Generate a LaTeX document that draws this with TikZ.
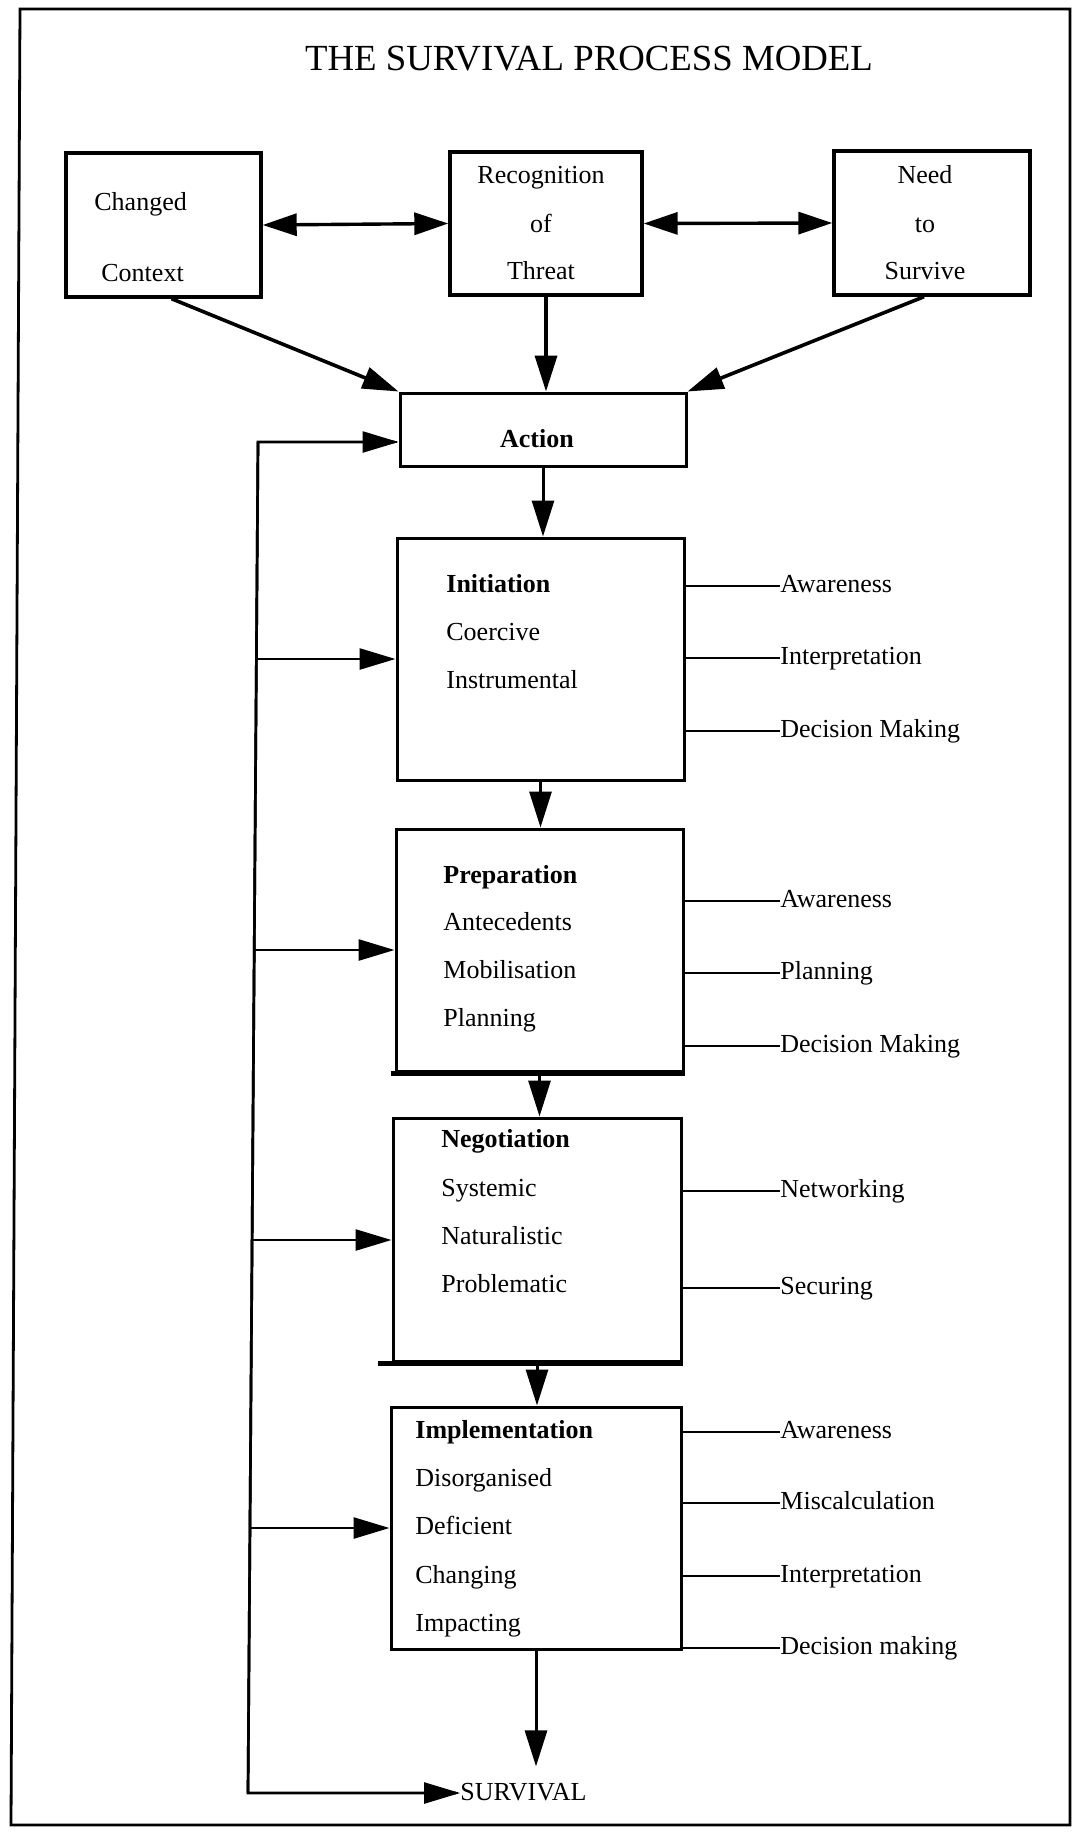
\documentclass[tikz,border=0pt]{standalone}
\usepackage{fontspec}
\setmainfont{Liberation Serif}
\usetikzlibrary{arrows.meta,fit}
\begin{document}
\begin{tikzpicture}[x=0.5pt,y=-0.5pt,
  box/.style={draw, line width=1.5pt, inner sep=0pt},
  txt/.style={font=\fontsize{13}{15}\selectfont, inner sep=0pt},
  side/.style={txt, anchor=west, text height=9pt, text depth=3pt},
  arr/.style={line width=1.5pt, -{Triangle[length=18pt,width=11pt]}},
  toparr/.style={line width=1.8pt, -{Triangle[length=18pt,width=11pt]}},
  darr/.style={line width=1.7pt, {Triangle[length=17pt,width=11pt]}-{Triangle[length=17pt,width=11pt]}},
  feed/.style={line width=1.35pt, line join=miter},
  feedarr/.style={line width=1.35pt, -{Triangle[length=18pt,width=10.5pt]}},
  tick/.style={line width=1.15pt}]
  % page and outer frame
  \useasboundingbox[fill=white] (0,0) rectangle (1073,1836);
  \draw[line width=1.4pt, line join=miter] (20,9) -- (1070,9) -- (1070,1825) -- (11,1825) -- cycle;
  \node[font=\fontsize{18.4}{20}\selectfont, anchor=base] (title) at (589,70) {THE SURVIVAL PROCESS MODEL};

  % top row
  \node[box, line width=1.7pt, fit={(66,153) (261,297)}] (cc) {};
  \node[box, line width=1.7pt, fit={(450,152) (642,295)}] (rt) {};
  \node[box, line width=1.7pt, fit={(834,151) (1030,295)}] (ns) {};
  \node[txt, anchor=base west] (cc1) at (94,210) {Changed};
  \node[txt, anchor=base west] (cc2) at (101,281) {Context};
  \node[txt, anchor=base] (rt1) at (541,183) {Recognition};
  \node[txt, anchor=base] (rt2) at (541,232) {of};
  \node[txt, anchor=base] (rt3) at (541,279) {Threat};
  \node[txt, anchor=base] (ns1) at (925,183) {Need};
  \node[txt, anchor=base] (ns2) at (925,232) {to};
  \node[txt, anchor=base] (ns3) at (925,279) {Survive};

  % action
  \node[box, fit={(400,393) (686,466)}] (act) {};
  \node[txt, anchor=base] (actt) at (537,447) {\textbf{Action}};

  % stage boxes
  \node[box, fit={(397,538) (684,780)}] (ini) {};
  \node[box, fit={(396,829) (683,1071)}] (prep) {};
  \node[box, fit={(393,1118) (681,1361)}] (neg) {};
  \node[box, fit={(391,1407) (681,1649)}] (imp) {};
  \draw[line width=2.4pt] ([xshift=-2pt,yshift=-0.6pt]prep.south west) -- ([yshift=-0.6pt]prep.south east);
  \draw[line width=2.4pt] ([xshift=-7pt,yshift=-0.6pt]neg.south west) -- ([yshift=-0.6pt]neg.south east);

  \node[txt, anchor=base west] (ini1) at (446,592) {\textbf{Initiation}};
  \node[txt, anchor=base west] (ini2) at (446,640) {Coercive};
  \node[txt, anchor=base west] (ini3) at (446,688) {Instrumental};

  \node[txt, anchor=base west] (prep1) at (443,883) {\textbf{Preparation}};
  \node[txt, anchor=base west] (prep2) at (443,930) {Antecedents};
  \node[txt, anchor=base west] (prep3) at (443,978) {Mobilisation};
  \node[txt, anchor=base west] (prep4) at (443,1026) {Planning};

  \node[txt, anchor=base west] (neg1) at (441,1147) {\textbf{Negotiation}};
  \node[txt, anchor=base west] (neg2) at (441,1196) {Systemic};
  \node[txt, anchor=base west] (neg3) at (441,1244) {Naturalistic};
  \node[txt, anchor=base west] (neg4) at (441,1292) {Problematic};

  \node[txt, anchor=base west] (imp1) at (415,1438) {\textbf{Implementation}};
  \node[txt, anchor=base west] (imp2) at (415,1486) {Disorganised};
  \node[txt, anchor=base west] (imp3) at (415,1534) {Deficient};
  \node[txt, anchor=base west] (imp4) at (415,1583) {Changing};
  \node[txt, anchor=base west] (imp5) at (415,1631) {Impacting};

  % side activities
  \node[side] (iA) at (780,586) {Awareness};
  \node[side] (iB) at (780,658) {Interpretation};
  \node[side] (iC) at (780,731) {Decision Making};
  \node[side] (pA) at (780,901) {Awareness};
  \node[side] (pB) at (780,973) {Planning};
  \node[side] (pC) at (780,1046) {Decision Making};
  \node[side] (nA) at (780,1191) {Networking};
  \node[side] (nB) at (780,1288) {Securing};
  \node[side] (mA) at (780,1432) {Awareness};
  \node[side] (mB) at (780,1503) {Miscalculation};
  \node[side] (mC) at (780,1576) {Interpretation};
  \node[side] (mD) at (780,1648) {Decision making};
  \foreach \b/\l in {ini/iA, ini/iB, ini/iC, prep/pA, prep/pB, prep/pC,
                     neg/nA, neg/nB, imp/mA, imp/mB, imp/mC, imp/mD}
    \draw[tick] (\b.east |- \l.west) -- (\l.west);

  % outcome
  \node[txt, anchor=base west] (surv) at (460,1800) {SURVIVAL};

  % top connectors
  \draw[darr] (cc.east) -- (rt.west);
  \draw[darr] (rt.east) -- (ns.west);
  \draw[toparr] ([xshift=4pt]cc.south) -- (act.north west);
  \draw[toparr] (rt.south) -- (rt.south |- act.north);
  \draw[toparr] ([xshift=-4pt]ns.south) -- (act.north east);

  % main flow
  \draw[arr] (act.south) -- (act.south |- ini.north);
  \draw[arr] (ini.south) -- (ini.south |- prep.north);
  \draw[arr] (prep.south) -- (prep.south |- neg.north);
  \draw[arr] (neg.south) -- (neg.south |- imp.north);
  \draw[arr] (imp.south) -- ([yshift=8pt]imp.south |- surv.north);

  % feedback line on the left
  \coordinate (ftop) at (258,442);
  \coordinate (fbot) at (248,1793);
  \coordinate (b1) at (256.4,659);
  \coordinate (b2) at (254.2,950);
  \coordinate (b3) at (252.1,1240);
  \coordinate (b4) at (250,1528);
  \draw[feed] (fbot) -- (ftop) -- ([xshift=-2pt]ftop -| act.west);
  \draw[feedarr] ([xshift=-1pt]ftop -| act.west) -- (ftop -| act.west);
  \draw[feed] (ftop) -- (fbot) -- ([xshift=-2pt]fbot -| surv.west);
  \draw[feedarr] ([xshift=-1pt]fbot -| surv.west) -- (fbot -| surv.west);
  \draw[feedarr] (b1) -- (b1 -| ini.west);
  \draw[feedarr] (b2) -- (b2 -| prep.west);
  \draw[feedarr] (b3) -- (b3 -| neg.west);
  \draw[feedarr] (b4) -- (b4 -| imp.west);
\end{tikzpicture}
\end{document}
